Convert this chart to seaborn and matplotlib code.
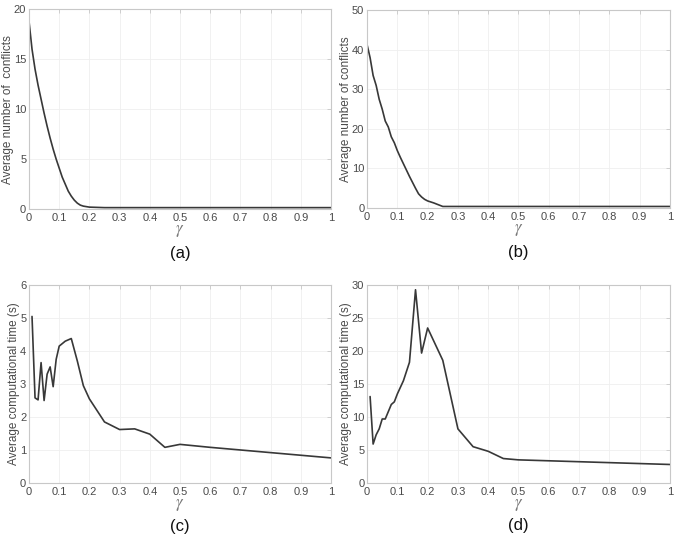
import matplotlib
matplotlib.use("Agg")
import matplotlib.pyplot as plt
import seaborn as sns
import pandas as pd

# ---- data ----
gamma_a = [0, 0.01, 0.02, 0.03, 0.04, 0.05, 0.06, 0.07, 0.08, 0.09, 0.10, 0.11, 0.12,
           0.13, 0.14, 0.15, 0.16, 0.17, 0.18, 0.19, 0.20, 0.25, 0.3, 0.4, 0.5, 0.6,
           0.7, 0.8, 0.9, 1.0]
conf_a = [18.8, 16.0, 14.0, 12.4, 11.0, 9.6, 8.3, 7.1, 6.0, 5.0, 4.1, 3.2, 2.5,
          1.8, 1.3, 0.9, 0.6, 0.4, 0.3, 0.25, 0.2, 0.15, 0.15, 0.15, 0.15, 0.15,
          0.15, 0.15, 0.15, 0.15]

gamma_b = [0, 0.01, 0.02, 0.03, 0.04, 0.05, 0.06, 0.07, 0.08, 0.09, 0.10, 0.11, 0.12,
           0.13, 0.14, 0.15, 0.16, 0.17, 0.18, 0.19, 0.20, 0.22, 0.24, 0.25, 0.3, 0.4,
           0.5, 0.6, 0.7, 0.8, 0.9, 1.0]
conf_b = [41.3, 38.0, 33.5, 31.0, 27.5, 25.0, 22.0, 20.5, 18.0, 16.5, 14.5, 12.8, 11.2,
          9.6, 8.0, 6.5, 5.0, 3.6, 2.8, 2.2, 1.8, 1.3, 0.7, 0.4, 0.4, 0.4,
          0.4, 0.4, 0.4, 0.4, 0.4, 0.4]

gamma_c = [0.01, 0.02, 0.03, 0.04, 0.05, 0.06, 0.07, 0.08, 0.09, 0.10, 0.12, 0.14,
           0.16, 0.18, 0.20, 0.25, 0.30, 0.35, 0.40, 0.45, 0.50, 0.6, 0.8, 1.0]
time_c = [5.05, 2.58, 2.52, 3.65, 2.50, 3.30, 3.52, 2.92, 3.75, 4.15, 4.30, 4.38,
          3.70, 2.95, 2.55, 1.85, 1.62, 1.64, 1.48, 1.08, 1.17, 1.08, 0.92, 0.76]

gamma_d = [0.01, 0.02, 0.03, 0.04, 0.05, 0.06, 0.07, 0.08, 0.09, 0.10, 0.12, 0.14,
           0.16, 0.18, 0.20, 0.25, 0.30, 0.35, 0.40, 0.45, 0.50, 1.0]
time_d = [13.1, 5.9, 7.3, 8.2, 9.7, 9.7, 10.8, 11.9, 12.3, 13.5, 15.5, 18.3,
          29.3, 19.7, 23.5, 18.6, 8.2, 5.5, 4.8, 3.7, 3.5, 2.8]

panels = [
    (gamma_a, conf_a, "Average number of  conflicts", 20, [0, 5, 10, 15, 20], "(a)"),
    (gamma_b, conf_b, "Average number of conflicts", 50, [0, 10, 20, 30, 40, 50], "(b)"),
    (gamma_c, time_c, "Average computational time (s)", 6, [0, 1, 2, 3, 4, 5, 6], "(c)"),
    (gamma_d, time_d, "Average computational time (s)", 30, [0, 5, 10, 15, 20, 25, 30], "(d)"),
]
xticks = [0, 0.1, 0.2, 0.3, 0.4, 0.5, 0.6, 0.7, 0.8, 0.9, 1]
xticklabels = ["0", "0.1", "0.2", "0.3", "0.4", "0.5", "0.6", "0.7", "0.8", "0.9", "1"]

sns.set_style("white")
plt.rcParams["font.family"] = ["Liberation Sans", "DejaVu Sans"]
plt.rcParams["mathtext.fontset"] = "stix"

fig = plt.figure(figsize=(6.76, 5.39), dpi=100)
positions = [
    [0.0429, 0.612, 0.4467, 0.371],
    [0.543, 0.614, 0.448, 0.367],
    [0.0429, 0.104, 0.4467, 0.367],
    [0.543, 0.104, 0.448, 0.367],
]
ylabel_x = [-0.050, -0.050, -0.031, -0.050]
tag_y = [-0.22, -0.225, -0.22, -0.215]

tick_col = "#4a4a4a"
spine_col = "#c8c8c8"

for pos, lx, ty, (x, y, ylab, ymax, yticks, tag) in zip(positions, ylabel_x, tag_y, panels):
    ax = fig.add_axes(pos)
    df = pd.DataFrame({"gamma": x, "val": y})
    sns.lineplot(data=df, x="gamma", y="val", ax=ax, color="#383838", linewidth=1.2)
    ax.set_xlim(0, 1)
    ax.set_ylim(0, ymax)
    ax.set_xticks(xticks)
    ax.set_xticklabels(xticklabels)
    ax.set_yticks(yticks)
    ax.grid(True, color="#efefef", linewidth=0.6)
    for s in ax.spines.values():
        s.set_visible(True)
        s.set_color(spine_col)
        s.set_linewidth(0.8)
    ax.tick_params(axis="both", direction="in", length=3, width=0.6, color=spine_col,
                   labelsize=8, labelcolor=tick_col, top=True, right=True, pad=2)
    ax.tick_params(axis="x", pad=3)
    ax.set_ylabel(ylab, fontsize=8.5, color=tick_col)
    ax.yaxis.set_label_coords(lx, 0.5)
    ax.set_xlabel(r"$\gamma$", fontsize=12, color="#777777", labelpad=0)
    ax.text(0.5, ty, tag, transform=ax.transAxes, ha="center", va="center",
            fontsize=12, color="#111111")

fig.savefig("out.png", dpi=100)
